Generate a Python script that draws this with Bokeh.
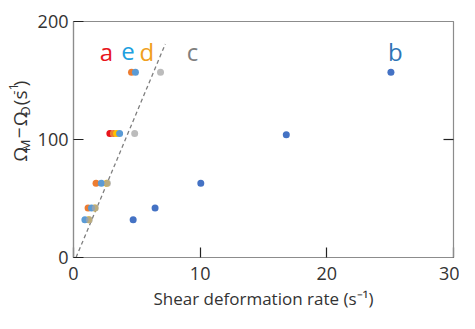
import math
from bokeh.plotting import figure
from bokeh.layouts import row
from bokeh.models import Range1d, FixedTicker, LinearAxis, ColumnDataSource
from bokeh.core.properties import value
from bokeh.embed import file_html
from bokeh.resources import INLINE

# ---- data ----
b_x = [4.71, 6.44, 10.05, 16.8, 25.06]
b_y = [32, 42, 63, 104, 157]
c_x = [1.25, 1.72, 2.68, 4.83, 6.87]
c_y = [32, 42, 63, 105, 157]
d_x = [1.2, 1.68, 2.62, 3.4]
d_y = [32, 42, 63, 105]
e_x = [0.9, 1.42, 2.2, 3.64, 4.89]
e_y = [32, 42, 63, 105, 157]
o_x = [1.15, 1.78, 3.15, 4.58]
o_y = [42, 63, 105, 157]
a_x = [2.87]
a_y = [105]

fit_x = [0.2, 7.25]
fit_y = [0, 181]

lbl_text = ["a", "e", "d", "c", "b"]
lbl_x = [2.6, 4.3, 5.8, 9.4, 25.4]
lbl_y = [175, 175, 175, 175, 175]
lbl_color = ["#E8141B", "#20A0E0", "#F0A020", "#7F7F7F", "#2E75B6"]

x_ticks = [0, 10, 20, 30]
y_ticks = [0, 100, 200]

ylab_text = ["\u03A9", "M", "\u2212", "\u03A9", "D", "(s", "-1", ")"]

FONT = "Open Sans"
W, H = 459, 313
LW = 34                       # width of the y-label strip
MR, MT, MB = 6, 21, 56

p = figure(width=W - LW, height=H, output_backend="svg", toolbar_location=None,
           x_range=Range1d(0, 30), y_range=Range1d(0, 200),
           min_border_left=0, min_border_right=MR, min_border_top=MT,
           min_border_bottom=MB)
p.grid.visible = False
p.outline_line_color = "#8C8C8C"
p.outline_line_width = 1.2

for ax, tk in ((p.xaxis[0], x_ticks), (p.yaxis[0], y_ticks)):
    ax.ticker = FixedTicker(ticks=tk)
    ax.axis_line_color = "#8C8C8C"
    ax.axis_line_width = 1.2
    ax.major_tick_in = 10
    ax.major_tick_out = 0
    ax.major_tick_line_color = "#222222"
    ax.major_tick_line_width = 1.2
    ax.minor_tick_line_color = None
    ax.major_label_text_font = FONT
    ax.major_label_text_font_size = "18px"
    ax.major_label_text_color = "#333333"

p.xaxis.major_label_standoff = 9
p.yaxis.major_label_standoff = 5
p.xaxis.axis_label = "Shear deformation rate (s\u207B\u00B9)"
p.xaxis.axis_label_text_font = FONT
p.xaxis.axis_label_text_font_size = "17px"
p.xaxis.axis_label_text_font_style = "normal"
p.xaxis.axis_label_text_color = "#333333"
p.xaxis.axis_label_standoff = 4

ra = LinearAxis(ticker=FixedTicker(ticks=[100]))
ra.axis_line_color = "#8C8C8C"
ra.major_tick_in = 10
ra.major_tick_out = 0
ra.major_tick_line_color = "#222222"
ra.major_tick_line_width = 1.2
ra.minor_tick_line_color = None
ra.major_label_text_alpha = 0
ra.major_label_text_font_size = "1px"
ra.major_label_standoff = 0
p.add_layout(ra, "right")

# dashed guide line
p.line(fit_x, fit_y, line_color="#7F7F7F", line_width=1.3, line_dash="4 3")

S = 7
p.scatter(a_x, a_y, size=S, color="#E8141B", line_color=None)
p.scatter(o_x, o_y, size=S, color="#ED7D31", line_color=None)
p.scatter(d_x, d_y, size=S, color="#FFC000", line_color=None)
p.scatter(e_x, e_y, size=S, color="#5B9BD5", line_color=None)
p.scatter(c_x, c_y, size=S, color="#A5A5A5", line_color=None, alpha=0.75)
p.scatter(b_x, b_y, size=S, color="#4472C4", line_color=None)

src = ColumnDataSource(dict(x=lbl_x, y=lbl_y, t=lbl_text, c=lbl_color))
p.text(x="x", y="y", text="t", text_color="c", source=src,
       text_font=value(FONT), text_font_size="24px",
       text_align="center", text_baseline="middle")

# ---- y-axis label strip (subscripts / superscript composed from pieces) ----
q = figure(width=LW, height=H, output_backend="svg", toolbar_location=None,
           x_range=Range1d(0, LW), y_range=Range1d(0, H),
           min_border=0, min_border_left=0, min_border_right=0,
           min_border_top=0, min_border_bottom=0)
q.axis.visible = False
q.grid.visible = False
q.outline_line_color = None

x0, y0 = 19, 127
along = [0, 14, 31, 47, 61, 75, 89, 100]
across = [0, 5, 0, 0, 5, 0, -6, 0]
sizes = ["19px", "13px", "19px", "19px", "13px", "19px", "13px", "19px"]
ysrc = ColumnDataSource(dict(
    x=[x0 + a for a in across], y=[y0 + a for a in along],
    t=ylab_text, s=sizes))
q.text(x="x", y="y", text="t", source=ysrc, angle=math.pi / 2,
       text_font=value(FONT), text_font_size="s", text_color="#333333",
       text_align="left", text_baseline="middle")

layout = row(q, p, spacing=0)
open("out.html", "w").write(file_html(layout, INLINE))
